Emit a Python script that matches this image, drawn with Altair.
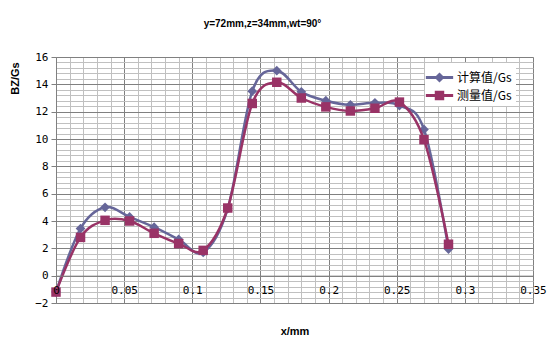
import altair as alt
import pandas as pd

# ---- data ----
x_mm = [0, 0.018, 0.036, 0.054, 0.072, 0.09, 0.108, 0.126, 0.144,
        0.162, 0.18, 0.198, 0.216, 0.234, 0.252, 0.27, 0.288]
calc_vals = [-1.2, 3.45, 5.0, 4.3, 3.55, 2.65, 1.7, 4.9, 13.5,
             15.0, 13.45, 12.8, 12.5, 12.65, 12.45, 10.7, 1.95]
meas_vals = [-1.2, 2.8, 4.05, 4.0, 3.1, 2.35, 1.85, 4.95, 12.6,
             14.15, 13.0, 12.35, 12.05, 12.25, 12.7, 9.95, 2.3]
series_names = ["计算值/Gs", "测量值/Gs"]
series_colors = ["#666699", "#993366"]

x_major = [0, 0.05, 0.1, 0.15, 0.2, 0.25, 0.3, 0.35]
x_grid = [round(i * 0.01, 2) for i in range(36)]
y_major = [-2, 0, 2, 4, 6, 8, 10, 12, 14, 16]
y_grid = [round(-2 + i * 0.4, 1) for i in range(46)]

title_text = "y=72mm,z=34mm,wt=90°"
x_title = "x/mm"
y_title = "BZ/Gs"

rows = []
for name, vals in zip(series_names, [calc_vals, meas_vals]):
    for xv, yv in zip(x_mm, vals):
        rows.append({"x": xv, "y": yv, "series": name})
df = pd.DataFrame(rows)

W, H = 477, 246
xs = alt.Scale(domain=[0, 0.35], nice=False, zero=False)
ys = alt.Scale(domain=[-2, 16], nice=False, zero=False)

TICK_FONT = "DejaVu Sans Mono"
DARK = "#808080"
LIGHT = "#c0c0c0"

# grid layer (minor + major grid lines)
grid = alt.Chart(df).mark_point(opacity=0).encode(
    x=alt.X("x:Q", scale=xs, axis=alt.Axis(
        orient="top", values=x_grid, labels=False, ticks=False, domain=False,
        grid=True, title=None, gridWidth=1,
        gridColor={"condition": {"test": "abs(datum.value*20 - round(datum.value*20)) < 0.001",
                                 "value": DARK}, "value": LIGHT})),
    y=alt.Y("y:Q", scale=ys, axis=alt.Axis(
        orient="right", values=y_grid, labels=False, ticks=False, domain=False,
        grid=True, title=None, gridWidth=1,
        gridColor={"condition": {"test": "abs(datum.value/2 - round(datum.value/2)) < 0.001",
                                 "value": DARK}, "value": LIGHT})),
)

def series_filter(name):
    return alt.datum.series == name

main_x_axis = alt.Axis(
    orient="bottom", values=x_major, format="~g", labelFlush=False,
    offset=-H * 2 / 18, grid=False, ticks=False, tickSize=0, labelPadding=9,
    domain=True, domainColor=DARK, labelFont=TICK_FONT, labelFontSize=11,
    labelColor="#000000", title=x_title, titleFont="Liberation Sans",
    titleFontSize=11, titleFontWeight="bold", titleX=W / 2, titleY=56,
    titleAlign="center", titleBaseline="middle", labelOverlap=False,
    zindex=1,
)
main_y_axis = alt.Axis(
    orient="left", values=y_major, grid=False, ticks=True, tickSize=5,
    tickColor=DARK, domain=True, domainColor=DARK, labelPadding=3,
    labelFont=TICK_FONT, labelFontSize=11, labelColor="#000000",
    title=y_title, titleFont="Liberation Sans", titleFontSize=11,
    titleFontWeight="bold", titleX=-41, titleY=21, titleAngle=270,
    titleAlign="center", titleBaseline="middle", labelOverlap=False,
)

line_calc = alt.Chart(df).transform_filter(series_filter(series_names[0])).mark_line(
    interpolate="cardinal", strokeWidth=2.5, color=series_colors[0]
).encode(
    x=alt.X("x:Q", scale=xs, axis=main_x_axis),
    y=alt.Y("y:Q", scale=ys, axis=main_y_axis),
)
pts_calc = alt.Chart(df).transform_filter(series_filter(series_names[0])).mark_point(
    shape="diamond", filled=True, size=95, opacity=1, color=series_colors[0]
).encode(
    x=alt.X("x:Q", scale=xs, axis=None),
    y=alt.Y("y:Q", scale=ys, axis=None),
)
line_meas = alt.Chart(df).transform_filter(series_filter(series_names[1])).mark_line(
    interpolate="cardinal", strokeWidth=2.5, color=series_colors[1]
).encode(
    x=alt.X("x:Q", scale=xs, axis=None),
    y=alt.Y("y:Q", scale=ys, axis=None),
)
pts_meas = alt.Chart(df).transform_filter(series_filter(series_names[1])).mark_point(
    shape="square", filled=True, size=90, opacity=1, color=series_colors[1]
).encode(
    x=alt.X("x:Q", scale=xs, axis=None),
    y=alt.Y("y:Q", scale=ys, axis=None),
)

# legend-only layer: symbol = line + marker
line_part = "M-1.3,-0.14H1.3V0.14H-1.3Z"
diamond_part = "M0,-0.48L0.48,0L0,0.48L-0.48,0Z"
square_part = "M-0.45,-0.45H0.45V0.45H-0.45Z"
legend_shapes = [line_part + diamond_part, line_part + square_part]

def make_legend():
    return alt.Legend(
        orient="none", legendX=369, legendY=6, title=None,
        fillColor="white", padding=4, symbolSize=441, labelOffset=7,
        rowPadding=1, symbolStrokeWidth=0, labelFont="Noto Sans CJK SC",
        labelFontSize=12, labelColor="#000000", labelLimit=200,
    )

legend_layer = alt.Chart(df).transform_filter("false").mark_point(
    filled=True, opacity=1
).encode(
    x=alt.X("x:Q", scale=xs, axis=None),
    y=alt.Y("y:Q", scale=ys, axis=None),
    color=alt.Color("series:N", scale=alt.Scale(domain=series_names, range=series_colors),
                    legend=make_legend()),
    shape=alt.Shape("series:N", scale=alt.Scale(domain=series_names, range=legend_shapes),
                    legend=make_legend()),
)

chart = alt.layer(
    grid, line_calc, pts_calc, line_meas, pts_meas, legend_layer
).resolve_axis(
    x="independent", y="independent"
).properties(
    width=W, height=H,
    padding={"left": 56, "top": 57, "right": 27, "bottom": 50},
    autosize=alt.AutoSizeParams(type="none"),
    title=alt.TitleParams(
        title_text, font="Liberation Sans", fontSize=10, fontWeight="bold",
        anchor="middle", frame="group", dx=-32, dy=4, offset=26, color="#000000",
    ),
).configure_view(stroke=None).configure(background="white")

chart.save("out.html", embed_options={"renderer": "svg", "actions": False})
